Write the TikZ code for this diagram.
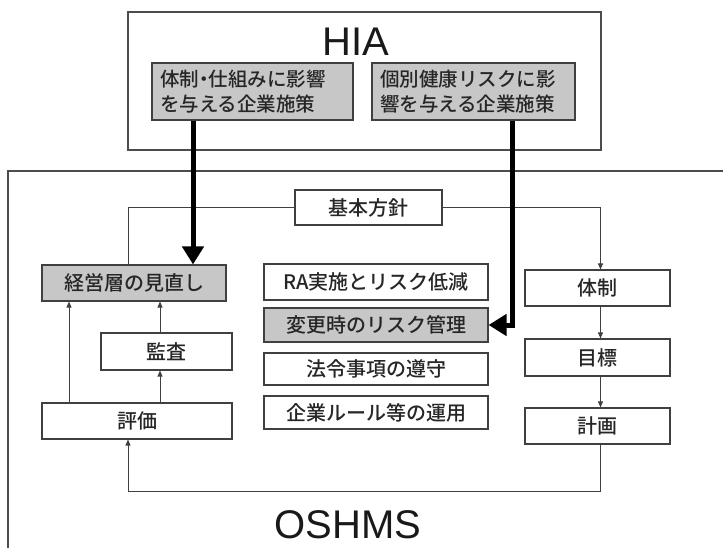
\documentclass[tikz,border=0pt]{standalone}
\usepackage{fontspec}
\setmainfont{Liberation Sans}
\newfontfamily\jp{Noto Sans CJK JP Medium}
\usetikzlibrary{arrows.meta}
\begin{document}
\begin{tikzpicture}[x=1pt,y=-1pt,
  box/.style={draw=black!75,line width=1.1pt,fill=white,inner sep=0pt,
    font=\jp\fontsize{20}{24}\selectfont,text=black!85},
  graybox/.style={box,fill=black!22},
  conn/.style={draw=black!75,line width=0.9pt},
  tip/.style={conn,-{Triangle[length=6pt,width=5pt]}},
  thick arrow/.style={draw=black,line width=5pt,-{Triangle[length=18pt,width=21pt]}},
  frame/.style={draw=black!70,line width=1.1pt},
  big/.style={font=\fontsize{40}{44}\selectfont,text=black!90,inner sep=0pt}
]
\useasboundingbox (0,0) rectangle (723,548);
% frames
\node[frame,minimum width=473pt,minimum height=138pt,inner sep=0pt] (hiaframe) at (364.5,81) {};
\coordinate (oshbl) at (8,548);
\coordinate (oshtl) at (8,171);
\coordinate (oshtr) at (723,171);
\draw[frame] (oshbl) -- (oshtl) -- (oshtr);
\node[big] (hia) at (356,42) {HIA};
\node[big] (oshms) at (348,525) {OSHMS};
% HIA boxes
\node[graybox,minimum width=201pt,minimum height=57pt,text width=185pt,align=left,
  font=\jp\fontsize{19.5}{25}\selectfont] (g1) at (252.5,91.5) {体制\kern-0.25em・\kern-0.25em仕組みに影響\\を与える企業施策};
\node[graybox,minimum width=203pt,minimum height=57pt,text width=187pt,align=left,
  font=\jp\fontsize{19.5}{25}\selectfont] (g2) at (473.5,91.5) {個別健康リスクに影\\響を与える企業施策};
% OSHMS boxes
\node[box,minimum width=147pt,minimum height=35pt] (kihon) at (368.5,207.5) {基本方針};
\node[graybox,minimum width=184pt,minimum height=36pt] (keiei) at (134,283) {経営層の見直し};
\node[box,minimum width=224pt,minimum height=36pt] (ra) at (376,282) {RA実施とリスク低減};
\node[graybox,minimum width=224pt,minimum height=34pt] (henko) at (376,325) {変更時のリスク管理};
\node[box,minimum width=224pt,minimum height=32pt] (horei) at (376,369) {法令事項の遵守};
\node[box,minimum width=224pt,minimum height=33pt] (kigyo) at (376,412.5) {企業ルール等の運用};
\node[box,minimum width=145pt,minimum height=36pt] (taisei) at (597.5,288) {体制};
\node[box,minimum width=145pt,minimum height=37pt] (mokuhyo) at (597.5,357.5) {目標};
\node[box,minimum width=145pt,minimum height=36pt] (keikaku) at (597.5,426) {計画};
\node[box,minimum width=131pt,minimum height=37pt] (kansa) at (166.5,351.5) {監査};
\node[box,minimum width=190pt,minimum height=36pt] (hyoka) at (137,421) {評価};
% thin connectors
\draw[conn] (kihon.west) -| ([xshift=-6pt]keiei.north);
\draw[tip] (kihon.east) -| ([xshift=3pt]taisei.north);
\draw[tip] ([xshift=3pt]taisei.south) -- ([xshift=3pt]mokuhyo.north);
\draw[tip] ([xshift=3pt]mokuhyo.south) -- ([xshift=3pt]keikaku.north);
\coordinate (loopr) at (600.5,491);
\draw[tip] ([xshift=3pt]keikaku.south) -- (loopr) -| ([xshift=-9pt]hyoka.south);
\draw[tip] ([xshift=-68pt]hyoka.north) -- ([xshift=-65pt]keiei.south);
\draw[tip] ([xshift=23pt]hyoka.north) -- ([xshift=-6.5pt]kansa.south);
\draw[tip] ([xshift=-6.5pt]kansa.north) -- ([xshift=26pt]keiei.south);
% thick arrows
\draw[thick arrow] ([xshift=-59.5pt]g1.south) -- ([xshift=59pt]keiei.north);
\draw[thick arrow] ([xshift=38.5pt]g2.south) |- (henko.east);
\end{tikzpicture}
\end{document}
